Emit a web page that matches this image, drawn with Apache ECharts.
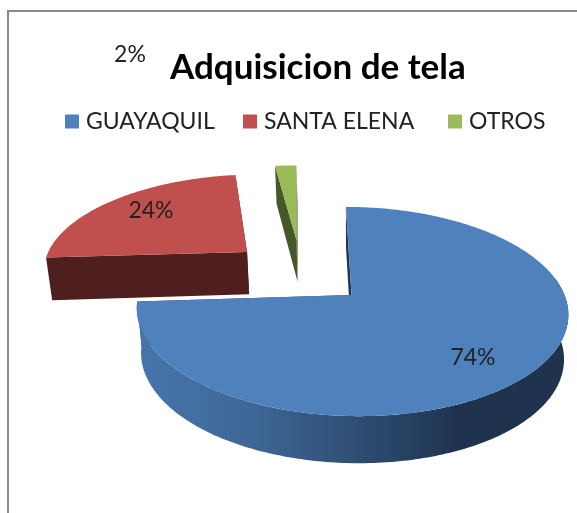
<!DOCTYPE html>
<html><head><meta charset="utf-8">
<style>html,body{margin:0;padding:0;background:#fff}#c{width:577px;height:513px;filter:blur(0.45px)}</style>
<script src="https://cdn.jsdelivr.net/npm/echarts@6/dist/echarts.min.js"></script>
</head><body><div id="c"></div>
<script>
const titleText = 'Adquisicion de tela';
const categories = ['GUAYAQUIL', 'SANTA ELENA', 'OTROS'];
const percentValues = [74, 24, 2];
const topColors = ['#4F81BD', '#C0504D', '#9BBB59'];
const cutColors = ['#1F3552', '#4E1F1E', '#46582A'];
const fontName = 'Lato, Carlito, "Open Sans", sans-serif';

// Projection of the tilted disc
const view = {cx: 351.5, cy: 295, R: 213, Ry: 102, k: 0.158};
const explode = [{u: 0, v: 0, skew: 6.5}, {u: -0.517, v: 0.4526, skew: 4}, {u: -0.258, v: 0.59, skew: 8.8}];
const labelAt = [[473, 358], [151, 211], [130, 55]];
const legendLeft = [65, 243, 448];

function project(slice, theta, lower) {
  const a = theta * Math.PI / 180;
  return projectUV(slice, slice.u + Math.sin(a), slice.v + Math.cos(a), lower);
}
function projectUV(slice, u, v, lower) {
  const s = 1 / (1 + view.k * v);
  let x = view.R * u * s - slice.skew * v * s, y = -view.Ry * v * s;
  if (lower) { x *= 0.98; y = y * 0.98 + (44 - 5.5 * v); }
  return [view.cx + x, view.cy + y];
}
function arc(slice, from, to, lower) {
  const pts = [], n = Math.max(2, Math.ceil(Math.abs(to - from)));
  for (let i = 0; i <= n; i++) pts.push(project(slice, from + (to - from) * i / n, lower));
  return pts;
}
const total = percentValues.reduce((a, b) => a + b, 0);
function startAngle(idx) {
  let acc = 0;
  for (let i = 0; i < idx; i++) acc += percentValues[i];
  return acc / total * 360;
}
function renderSlice(idx) {
  return function (params, api) {
    const value = api.value(0);
    const slice = explode[idx];
    const a0 = startAngle(idx), a1 = a0 + value / total * 360;
    const children = [];
    const apexT = projectUV(slice, slice.u, slice.v, false);
    const apexB = projectUV(slice, slice.u, slice.v, true);
    const face = (theta) => ({
      type: 'polygon',
      shape: {points: [apexT, project(slice, theta, false), project(slice, theta, true), apexB]},
      style: {fill: cutColors[idx]}
    });
    children.push(face(a1), face(a0));
    if (idx === 0) {
      const sideFrom = 80, sideTo = a1;
      const pts = arc(slice, sideFrom, sideTo, false).concat(arc(slice, sideTo, sideFrom, true));
      children.push({
        type: 'polygon', shape: {points: pts},
        style: {fill: {type: 'linear', x: 141, y: 0, x2: 564, y2: 0, global: true, colorStops: [
          {offset: 0, color: '#4675AB'}, {offset: 0.25, color: '#3F6898'},
          {offset: 0.5, color: '#2F4F75'}, {offset: 0.75, color: '#1F334F'}, {offset: 1, color: '#1F334F'}]}}
      });
    }
    children.push({
      type: 'polygon',
      shape: {points: [apexT].concat(arc(slice, a0, a1, false))},
      style: {fill: topColors[idx]}
    });
    children.push({
      type: 'text',
      style: {text: value + '%', x: labelAt[idx][0], y: labelAt[idx][1], align: 'center', verticalAlign: 'middle',
        fill: '#222', fontSize: 23, fontFamily: fontName}
    });
    return {type: 'group', children};
  };
}

const chart = echarts.init(document.getElementById('c'));
chart.setOption({
  animation: false,
  backgroundColor: '#fff',
  title: {text: titleText, left: 170, top: 50, padding: 0,
    textStyle: {fontFamily: fontName, fontWeight: 'bold', fontSize: 35, color: '#000'}},
  legend: categories.map((name, i) => ({
    data: [name], left: legendLeft[i], top: 110, padding: 0, icon: 'rect', itemWidth: 14, itemHeight: 14, itemGap: 0,
    selectedMode: false, textStyle: {fontFamily: fontName, fontSize: 23, color: '#222', padding: [0, 0, 0, 2]}
  })),
  graphic: [{type: 'rect', z: -1, shape: {x: 8, y: 11, width: 700, height: 700}, style: {fill: '#fff', stroke: '#8A8A8A', lineWidth: 2}}],
  series: categories.map((name, i) => ({
    type: 'custom', name, coordinateSystem: 'none', z: i === 0 ? 4 : 3 - i,
    silent: true, itemStyle: {color: topColors[i]},
    data: [[percentValues[i]]], renderItem: renderSlice(i)
  }))
});
</script></body></html>
